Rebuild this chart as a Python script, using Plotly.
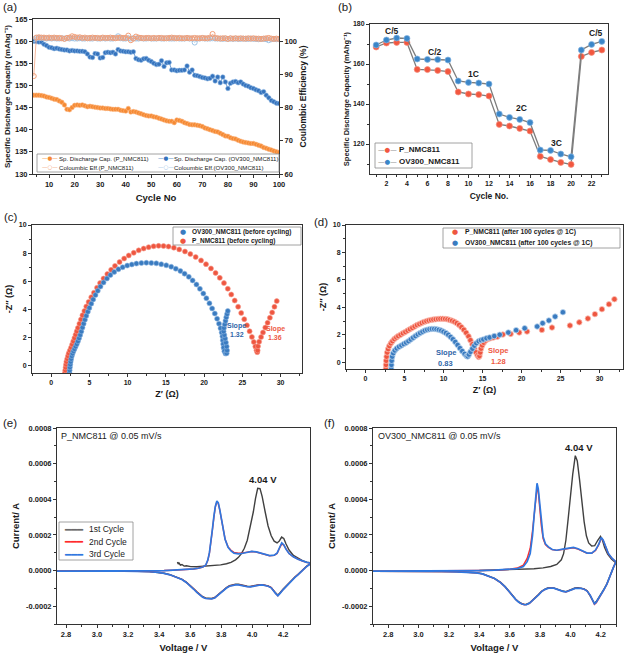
import plotly.graph_objects as go

W, H = 626, 658
FONT = "Liberation Sans"
GLYPH = "DejaVu Sans"
AX = "#333333"
TXT = "#1a1a1a"

# ---------------- (a) cycling stability ----------------
cycles_a = [4, 5, 6, 7, 8, 9, 10, 11, 12, 13, 14, 15, 16, 17, 18, 19, 20, 21, 22, 23,
            24, 25, 26, 27, 28, 29, 30, 31, 32, 33, 34, 35, 36, 37, 38, 39, 40, 41, 42, 43,
            44, 45, 46, 47, 48, 49, 50, 51, 52, 53, 54, 55, 56, 57, 58, 59, 60, 61, 62, 63,
            64, 65, 66, 67, 68, 69, 70, 71, 72, 73, 74, 75, 76, 77, 78, 79, 80, 81, 82, 83,
            84, 85, 86, 87, 88, 89, 90, 91, 92, 93, 94, 95, 96, 97, 98, 99, 100]
cap_p_a = [147.8, 147.8, 147.8, 147.7, 147.6, 147.4, 147.3, 147.1, 146.9, 146.8,
           146.5, 146.2, 145.6, 144.6, 144.5, 145.0, 145.5, 145.6, 145.5, 145.6,
           145.4, 145.2, 145.3, 145.2, 145.1, 145.0, 144.9, 144.9, 144.8, 144.8,
           144.7, 144.6, 144.6, 144.6, 144.4, 144.3, 144.2, 144.8, 144.0, 144.1,
           144.0, 143.8, 143.6, 143.4, 143.2, 143.1, 143.1, 142.9, 142.8, 142.6,
           142.4, 142.2, 142.0, 141.9, 141.9, 141.6, 142.2, 142.1, 141.9, 141.6,
           141.4, 141.2, 141.1, 141.1, 141.0, 140.9, 140.7, 140.4, 140.2, 140.0,
           139.8, 139.6, 139.5, 139.2, 138.9, 138.6, 138.5, 138.2, 138.0, 137.9,
           137.6, 137.4, 137.2, 137.1, 137.0, 136.9, 136.9, 136.7, 136.5, 136.3,
           136.0, 135.8, 135.6, 135.4, 135.2, 135.0, 134.9]
cap_ov_a = [160.0, 159.9, 159.8, 159.8, 159.3, 159.0, 158.6, 158.5, 158.3, 158.4,
            158.2, 158.1, 158.0, 158.0, 157.8, 157.9, 157.8, 157.8, 157.7, 157.7,
            157.6, 157.1, 156.4, 156.3, 157.2, 157.1, 156.2, 156.3, 157.4, 157.5,
            157.4, 157.5, 157.1, 158.1, 157.8, 157.7, 157.6, 157.6, 157.5, 157.6,
            156.1, 155.8, 155.7, 156.0, 156.1, 155.7, 155.4, 155.0, 154.7, 154.8,
            155.6, 154.3, 155.1, 155.2, 153.5, 153.5, 153.3, 153.4, 153.4, 153.5,
            154.4, 153.0, 153.5, 152.3, 152.2, 152.0, 151.8, 151.7, 151.5, 151.6,
            152.1, 151.0, 151.9, 150.6, 151.9, 150.8, 149.3, 150.5, 150.8, 150.9,
            150.6, 150.8, 150.3, 150.0, 149.8, 149.5, 149.3, 149.0, 148.8, 148.4,
            148.6, 147.8, 147.2, 146.6, 146.3, 146.0, 145.9]
ce_p_a = [89.5, 101.1, 101.2, 101.1, 101.1, 101.0, 101.1, 101.0, 101.1, 101.0,
          101.0, 100.9, 100.7, 101.0, 101.1, 101.5, 101.3, 101.1, 101.2, 101.0,
          101.1, 100.9, 101.0, 101.1, 101.0, 101.0, 100.9, 101.1, 101.0, 101.0,
          101.1, 101.0, 100.9, 101.0, 101.1, 101.0, 101.0, 101.7, 100.3, 100.8,
          101.4, 101.1, 101.0, 100.9, 101.0, 101.0, 100.9, 101.0, 100.9, 101.0,
          101.0, 100.9, 100.9, 101.0, 101.1, 101.0, 100.9, 101.0, 100.9, 100.9,
          101.0, 100.9, 100.9, 101.0, 100.9, 100.9, 101.0, 100.9, 100.9, 101.1,
          102.2, 101.0, 100.9, 100.8, 100.9, 100.9, 100.7, 100.9, 100.8, 100.9,
          100.8, 100.9, 100.8, 100.8, 100.9, 100.8, 100.9, 100.8, 100.8, 100.7,
          100.8, 100.9, 101.0, 100.8, 100.7, 100.8, 100.7]
ce_ov_a = [100.6, 100.9, 101.0, 100.9, 100.9, 100.8, 100.9, 100.8, 100.9, 100.8,
           100.8, 100.9, 100.8, 100.9, 100.8, 100.9, 100.8, 100.8, 100.9, 100.8,
           100.8, 100.9, 100.8, 100.8, 101.0, 100.8, 100.8, 100.9, 100.8, 100.9,
           100.8, 100.8, 101.0, 101.5, 100.9, 100.8, 100.8, 100.9, 100.8, 100.9,
           100.8, 100.8, 100.9, 100.8, 100.8, 100.9, 100.8, 100.8, 100.8, 100.9,
           100.8, 100.8, 100.9, 100.8, 100.8, 100.8, 100.9, 100.8, 100.8, 100.8,
           100.9, 100.8, 100.8, 99.6, 100.8, 100.8, 100.9, 100.8, 100.8, 100.8,
           100.9, 100.8, 100.8, 100.8, 100.7, 100.8, 100.7, 100.8, 100.7, 100.8,
           100.7, 100.7, 100.8, 100.7, 100.7, 100.8, 100.7, 100.7, 100.6, 100.7,
           100.7, 100.6, 100.3, 100.6, 100.7, 100.6, 100.6]

# ---------------- (b) rate capability ----------------
cycles_b = [1, 2, 3, 4, 5, 6, 7, 8, 9, 10, 11, 12, 13, 14, 15, 16, 17, 18, 19, 20, 21, 22, 23]
rate_p = [168.5, 170.5, 170.8, 170.8, 157.3, 157.2, 156.8, 156.2, 146.0, 145.0, 144.7, 144.0,
          129.8, 129.0, 127.8, 126.5, 113.8, 112.2, 110.8, 109.8, 163.8, 165.8, 167.0]
rate_ov = [169.5, 172.0, 173.0, 172.8, 162.5, 162.3, 162.2, 162.0, 151.5, 150.8, 150.5, 150.0,
           135.0, 133.3, 132.3, 130.7, 117.0, 116.8, 115.0, 113.6, 167.0, 169.8, 171.3]
rate_labels = ["C/5", "C/2", "1C", "2C", "3C", "C/5"]
rate_label_x = [2.5, 6.7, 10.5, 15.2, 18.6, 22.4]
rate_label_y = [176.5, 166.0, 155.0, 137.8, 120.3, 175.5]

# ---------------- (c) EIS before cycling ----------------
c_ov_x = [2.40, 2.42, 2.45, 2.50, 2.55, 2.62, 2.70, 2.80, 2.92, 3.05,
          3.20, 3.35, 3.50, 3.65, 3.80, 3.95, 4.10, 4.25, 4.42, 4.60,
          4.80, 5.00, 5.25, 5.50, 5.80, 6.10, 6.45, 6.85, 7.30, 7.75,
          8.25, 8.80, 9.35, 9.95, 10.55, 11.15, 11.80, 12.45, 13.10, 13.75,
          14.40, 15.05, 15.70, 16.30, 16.90, 17.45, 18.00, 18.50, 19.00, 19.45,
          19.90, 20.30, 20.70, 21.05, 21.40, 21.70, 21.95, 22.15, 22.30, 22.40,
          22.45, 22.50, 22.55, 22.65, 22.80, 22.95, 23.00, 22.95, 22.85, 22.75,
          22.65, 22.55, 22.60, 22.70, 22.80, 22.90, 23.00, 23.10]
c_ov_y = [-0.50, -0.30, -0.10, 0.10, 0.30, 0.50, 0.70, 0.88, 1.05, 1.20,
          1.38, 1.55, 1.75, 1.97, 2.20, 2.45, 2.72, 3.00, 3.28, 3.56,
          3.85, 4.12, 4.42, 4.72, 5.03, 5.33, 5.63, 5.92, 6.20, 6.45,
          6.67, 6.86, 7.00, 7.12, 7.20, 7.26, 7.30, 7.32, 7.31, 7.28,
          7.22, 7.14, 7.04, 6.90, 6.74, 6.55, 6.32, 6.07, 5.78, 5.47,
          5.14, 4.80, 4.44, 4.08, 3.72, 3.35, 3.00, 2.68, 2.38, 2.10,
          1.82, 1.55, 1.30, 1.05, 0.88, 0.90, 1.10, 1.38, 1.66, 1.94,
          2.20, 2.45, 2.70, 2.95, 3.20, 3.45, 3.68, 3.90]
c_p_x = [1.80, 1.85, 1.90, 1.95, 2.00, 2.10, 2.20, 2.30, 2.45, 2.60,
         2.75, 2.90, 3.05, 3.20, 3.35, 3.50, 3.70, 3.90, 4.10, 4.35,
         4.60, 4.90, 5.25, 5.60, 6.00, 6.40, 6.85, 7.35, 7.85, 8.35,
         8.95, 9.55, 10.15, 10.80, 11.45, 12.10, 12.75, 13.40, 14.05, 14.70,
         15.35, 16.05, 16.75, 17.50, 18.20, 18.90, 19.60, 20.25, 20.90, 21.50,
         22.05, 22.60, 23.10, 23.55, 24.00, 24.45, 24.85, 25.25, 25.60, 25.95,
         26.25, 26.50, 26.70, 26.85, 26.95, 27.00, 27.05, 27.20, 27.45, 27.70,
         28.00, 28.30, 28.60, 28.90, 29.20, 29.50]
c_p_y = [-0.50, -0.30, -0.10, 0.10, 0.30, 0.50, 0.70, 0.90, 1.10, 1.30,
         1.52, 1.75, 1.98, 2.22, 2.46, 2.70, 3.00, 3.30, 3.60, 3.90,
         4.22, 4.54, 4.88, 5.20, 5.55, 5.88, 6.20, 6.52, 6.82, 7.10,
         7.37, 7.62, 7.84, 8.03, 8.20, 8.33, 8.43, 8.49, 8.52, 8.51,
         8.47, 8.39, 8.27, 8.12, 7.94, 7.73, 7.49, 7.22, 6.92, 6.60,
         6.25, 5.88, 5.48, 5.07, 4.64, 4.20, 3.76, 3.32, 2.88, 2.46,
         2.06, 1.70, 1.38, 1.12, 0.98, 1.10, 1.40, 1.72, 2.05, 2.38,
         2.72, 3.06, 3.42, 3.80, 4.20, 4.60]

# ---------------- (d) EIS after 100 cycles ----------------
d_p_x = [2.60, 2.62, 2.65, 2.70, 2.78, 2.90, 3.05, 3.25, 3.45, 3.70,
         3.95, 4.20, 4.50, 4.80, 5.10, 5.40, 5.70, 6.00, 6.30, 6.60,
         6.90, 7.20, 7.50, 7.80, 8.10, 8.40, 8.70, 9.00, 9.30, 9.60,
         9.90, 10.20, 10.50, 10.80, 11.10, 11.40, 11.70, 12.00, 12.30, 12.60,
         12.90, 13.20, 13.45, 13.70, 13.95, 14.15, 14.35, 14.50, 14.60, 14.70,
         14.80, 14.95, 15.15, 15.40, 15.70, 16.00, 16.40, 16.90, 17.60, 18.60,
         19.70, 20.70, 22.60, 23.90, 26.20, 27.40, 28.50, 29.40, 30.30, 31.20, 31.90]
d_p_y = [-0.50, -0.20, 0.10, 0.40, 0.70, 0.95, 1.17, 1.37, 1.53, 1.68,
         1.80, 1.90, 2.00, 2.10, 2.20, 2.30, 2.40, 2.50, 2.60, 2.70,
         2.78, 2.86, 2.93, 2.99, 3.04, 3.08, 3.11, 3.13, 3.15, 3.16,
         3.16, 3.15, 3.12, 3.08, 3.02, 2.94, 2.84, 2.71, 2.55, 2.36,
         2.14, 1.88, 1.60, 1.30, 1.00, 0.72, 0.50, 0.38, 0.45, 0.70,
         0.98, 1.22, 1.42, 1.58, 1.68, 1.74, 1.80, 1.86, 2.01, 2.06,
         2.16, 2.23, 2.35, 2.52, 2.67, 2.90, 3.18, 3.50, 3.86, 4.22, 4.59]
d_ov_x = [3.30, 3.32, 3.35, 3.42, 3.55, 3.75, 4.00, 4.30, 4.60, 4.90,
          5.20, 5.50, 5.80, 6.10, 6.40, 6.70, 7.00, 7.30, 7.60, 7.90,
          8.20, 8.50, 8.80, 9.10, 9.40, 9.70, 10.00, 10.30, 10.60, 10.90,
          11.20, 11.50, 11.80, 12.10, 12.40, 12.70, 12.95, 13.10, 13.25, 13.45,
          13.70, 13.95, 14.20, 14.50, 14.80, 15.10, 15.50, 15.90, 16.50, 17.20,
          18.30, 19.30, 20.40, 22.00, 22.70, 23.50, 24.30, 25.30]
d_ov_y = [-0.50, -0.20, 0.10, 0.40, 0.65, 0.85, 1.00, 1.12, 1.22, 1.32,
          1.42, 1.53, 1.65, 1.78, 1.90, 2.02, 2.12, 2.22, 2.30, 2.36,
          2.40, 2.42, 2.42, 2.40, 2.36, 2.30, 2.22, 2.12, 1.99, 1.84,
          1.67, 1.47, 1.25, 1.02, 0.80, 0.60, 0.45, 0.42, 0.55, 0.75,
          0.98, 1.20, 1.38, 1.52, 1.60, 1.66, 1.74, 1.80, 1.90, 2.00,
          2.16, 2.33, 2.47, 2.60, 2.84, 3.04, 3.32, 3.64]

# ---------------- (e) CV of P_NMC811 (current in units of 1e-4 A) ----------------
e_v_an1 = [3.518, 3.523, 3.528, 3.537, 3.547, 3.561, 3.575, 3.604, 3.643, 3.681,
           3.719, 3.758, 3.796, 3.834, 3.863, 3.892, 3.911, 3.930, 3.949, 3.968,
           3.987, 4.007, 4.021, 4.035, 4.050, 4.064, 4.083, 4.102, 4.122, 4.141,
           4.160, 4.174, 4.189, 4.203, 4.217, 4.237, 4.265, 4.294, 4.323, 4.351, 4.380]
e_i1_an = [0.48, 0.36, 0.42, 0.30, 0.34, 0.25, 0.27, 0.22, 0.21, 0.23,
           0.25, 0.28, 0.32, 0.38, 0.46, 0.60, 0.74, 0.95, 1.25, 1.70,
           2.40, 3.30, 4.05, 4.62, 4.60, 4.15, 3.30, 2.50, 1.95, 1.65,
           1.55, 1.65, 1.88, 1.80, 1.50, 1.15, 0.85, 0.68, 0.56, 0.47, 0.42]
e_v_an = [2.700, 2.886, 3.029, 3.173, 3.269, 3.365, 3.432, 3.489, 3.547, 3.585,
          3.623, 3.652, 3.681, 3.700, 3.714, 3.724, 3.734, 3.743, 3.753, 3.762,
          3.772, 3.781, 3.791, 3.801, 3.810, 3.825, 3.844, 3.863, 3.882, 3.911,
          3.940, 3.968, 3.997, 4.026, 4.054, 4.083, 4.112, 4.141, 4.160, 4.174,
          4.190, 4.203, 4.217, 4.237, 4.265, 4.294, 4.323, 4.351, 4.380]
e_i2_an = [-0.03, -0.03, -0.03, -0.02, -0.02, -0.01, 0.00, 0.02, 0.04, 0.06,
           0.09, 0.13, 0.20, 0.30, 0.58, 0.98, 1.52, 2.26, 3.00, 3.56,
           3.86, 3.77, 3.38, 2.88, 2.34, 1.76, 1.33, 1.14, 1.02, 0.97,
           0.99, 1.04, 1.07, 1.04, 0.96, 0.87, 0.83, 0.85, 0.96, 1.22,
           1.50, 1.42, 1.19, 0.95, 0.76, 0.63, 0.53, 0.46, 0.41]
e_i3_an = [-0.03, -0.03, -0.03, -0.02, -0.02, -0.01, 0.00, 0.02, 0.04, 0.06,
           0.09, 0.13, 0.20, 0.30, 0.60, 1.00, 1.55, 2.30, 3.05, 3.60,
           3.90, 3.80, 3.40, 2.90, 2.35, 1.75, 1.30, 1.10, 0.98, 0.94,
           0.97, 1.03, 1.07, 1.05, 0.97, 0.88, 0.84, 0.86, 0.98, 1.25,
           1.55, 1.45, 1.20, 0.96, 0.77, 0.63, 0.53, 0.46, 0.41]
e_v_cat = [4.380, 4.351, 4.332, 4.313, 4.294, 4.275, 4.256, 4.237, 4.217, 4.198,
           4.179, 4.165, 4.150, 4.136, 4.122, 4.102, 4.083, 4.064, 4.045, 4.026,
           4.007, 3.987, 3.968, 3.949, 3.930, 3.911, 3.892, 3.872, 3.853, 3.834,
           3.815, 3.796, 3.777, 3.758, 3.738, 3.719, 3.700, 3.681, 3.662, 3.643,
           3.623, 3.604, 3.575, 3.547, 3.508, 3.470, 3.432, 3.393, 3.336, 3.269,
           3.173, 3.029, 2.886, 2.700]
e_i1_cat = [0.42, 0.25, 0.08, -0.08, -0.22, -0.36, -0.52, -0.70, -0.88, -1.05,
            -1.25, -1.39, -1.25, -1.08, -0.95, -0.86, -0.81, -0.79, -0.79, -0.83,
            -0.87, -0.89, -0.88, -0.84, -0.80, -0.77, -0.77, -0.79, -0.85, -0.95,
            -1.09, -1.26, -1.41, -1.51, -1.56, -1.57, -1.54, -1.47, -1.35, -1.19,
            -1.02, -0.86, -0.65, -0.49, -0.34, -0.23, -0.15, -0.10, -0.06, -0.04,
            -0.03, -0.02, -0.02, -0.02]
e_i2_cat = [0.41, 0.24, 0.07, -0.09, -0.23, -0.37, -0.53, -0.71, -0.89, -1.07,
            -1.27, -1.41, -1.27, -1.09, -0.96, -0.87, -0.82, -0.80, -0.81, -0.85,
            -0.89, -0.91, -0.90, -0.86, -0.82, -0.79, -0.79, -0.81, -0.87, -0.97,
            -1.11, -1.28, -1.43, -1.53, -1.58, -1.59, -1.56, -1.49, -1.37, -1.21,
            -1.04, -0.87, -0.66, -0.50, -0.35, -0.24, -0.16, -0.10, -0.06, -0.04,
            -0.03, -0.03, -0.03, -0.03]
e_i3_cat = [0.40, 0.23, 0.06, -0.10, -0.24, -0.38, -0.54, -0.72, -0.90, -1.08,
            -1.28, -1.42, -1.28, -1.10, -0.97, -0.88, -0.83, -0.81, -0.82, -0.86,
            -0.90, -0.92, -0.91, -0.87, -0.83, -0.80, -0.80, -0.82, -0.88, -0.98,
            -1.12, -1.29, -1.44, -1.54, -1.59, -1.60, -1.57, -1.50, -1.38, -1.22,
            -1.05, -0.88, -0.67, -0.50, -0.35, -0.24, -0.16, -0.10, -0.06, -0.04,
            -0.03, -0.03, -0.03, -0.03]

# ---------------- (f) CV of OV300_NMC811 (current in units of 1e-4 A) ----------------
f_v_an1 = [3.40, 3.50, 3.60, 3.69, 3.76, 3.82, 3.87, 3.91, 3.94, 3.955,
           3.97, 3.985, 4.00, 4.015, 4.032, 4.045, 4.06, 4.075, 4.09, 4.105,
           4.12, 4.14, 4.16, 4.18, 4.198, 4.21, 4.225, 4.245, 4.27, 4.30]
f_i1_an = [0.00, 0.02, 0.04, 0.06, 0.10, 0.15, 0.23, 0.34, 0.60, 0.95,
           1.70, 2.90, 4.20, 5.40, 6.45, 6.15, 5.10, 3.90, 2.75, 1.95,
           1.55, 1.38, 1.40, 1.70, 1.92, 1.72, 1.30, 0.92, 0.65, 0.42]
f_v_an = [2.70, 2.90, 3.10, 3.30, 3.40, 3.50, 3.60, 3.65, 3.69, 3.715,
          3.735, 3.75, 3.762, 3.772, 3.78, 3.788, 3.797, 3.808, 3.82, 3.835,
          3.855, 3.88, 3.91, 3.95, 3.99, 4.02, 4.05, 4.08, 4.11, 4.14,
          4.165, 4.185, 4.203, 4.215, 4.23, 4.25, 4.275, 4.30]
f_i2_an = [-0.03, -0.03, -0.02, -0.01, 0.00, 0.02, 0.07, 0.14, 0.30, 0.68,
           1.25, 2.20, 3.30, 4.25, 4.60, 4.45, 3.55, 2.55, 1.80, 1.45,
           1.30, 1.17, 1.13, 1.19, 1.26, 1.28, 1.20, 1.08, 0.97, 0.97,
           1.13, 1.42, 1.80, 1.70, 1.33, 0.94, 0.67, 0.48]
f_i3_an = [-0.03, -0.03, -0.02, -0.01, 0.00, 0.02, 0.06, 0.11, 0.22, 0.50,
           0.95, 1.95, 3.20, 4.45, 4.90, 4.60, 3.70, 2.70, 1.90, 1.50,
           1.33, 1.18, 1.14, 1.20, 1.27, 1.30, 1.22, 1.10, 0.98, 0.98,
           1.15, 1.45, 1.85, 1.72, 1.35, 0.95, 0.68, 0.49]
f_v_cat = [4.30, 4.285, 4.27, 4.255, 4.24, 4.22, 4.20, 4.185, 4.17, 4.158,
           4.145, 4.13, 4.11, 4.09, 4.07, 4.05, 4.03, 4.01, 3.99, 3.97,
           3.95, 3.93, 3.91, 3.89, 3.87, 3.85, 3.83, 3.81, 3.79, 3.77,
           3.75, 3.73, 3.71, 3.698, 3.68, 3.66, 3.64, 3.62, 3.60, 3.57,
           3.54, 3.50, 3.46, 3.42, 3.38, 3.32, 3.25, 3.15, 3.00, 2.85, 2.70]
f_i1_cat = [0.48, 0.21, -0.14, -0.46, -0.74, -1.05, -1.35, -1.57, -1.74, -1.84,
            -1.63, -1.37, -1.13, -1.03, -0.98, -0.96, -0.98, -1.05, -1.13, -1.18,
            -1.15, -1.08, -1.01, -0.97, -0.96, -0.98, -1.05, -1.16, -1.34, -1.50,
            -1.68, -1.82, -1.89, -1.90, -1.86, -1.76, -1.61, -1.43, -1.20, -0.90,
            -0.66, -0.44, -0.29, -0.18, -0.12, -0.08, -0.06, -0.05, -0.04, -0.04, -0.04]
f_i2_cat = [0.49, 0.22, -0.15, -0.48, -0.77, -1.09, -1.40, -1.63, -1.81, -1.90,
            -1.67, -1.39, -1.15, -1.05, -1.00, -0.98, -1.00, -1.07, -1.15, -1.20,
            -1.17, -1.10, -1.03, -0.99, -0.98, -1.00, -1.07, -1.18, -1.36, -1.52,
            -1.70, -1.84, -1.91, -1.92, -1.88, -1.78, -1.63, -1.45, -1.22, -0.92,
            -0.68, -0.45, -0.30, -0.19, -0.13, -0.09, -0.07, -0.05, -0.05, -0.04, -0.04]
f_i3_cat = [0.49, 0.22, -0.15, -0.48, -0.76, -1.08, -1.38, -1.60, -1.78, -1.87,
            -1.65, -1.38, -1.15, -1.05, -1.00, -0.98, -1.00, -1.07, -1.15, -1.20,
            -1.17, -1.10, -1.03, -0.99, -0.98, -1.00, -1.07, -1.18, -1.36, -1.52,
            -1.70, -1.84, -1.91, -1.92, -1.88, -1.78, -1.63, -1.45, -1.22, -0.92,
            -0.68, -0.45, -0.30, -0.19, -0.13, -0.09, -0.07, -0.05, -0.05, -0.04, -0.04]
cv_scale = 1e-4
cv_tickvals = [-0.0002, 0.0, 0.0002, 0.0004, 0.0006, 0.0008]
cv_ticktext = ["-0.0002", "0.0000", "0.0002", "0.0004", "0.0006", "0.0008"]

# ---------------- helpers ----------------
def dx(l, r):
    return [l / W, r / W]

def dy(t, b):
    return [1 - b / H, 1 - t / H]

def px(x):
    return x / W

def py(y):
    return 1 - y / H

def axis(domain, anchor, rng, dtick, tick0=0, minor=None, tickfs=7.5, title=None,
         titlefs=8.5, standoff=3, **kw):
    d = dict(domain=domain, anchor=anchor, range=rng, dtick=dtick, tick0=tick0,
             showline=True, linecolor=AX, linewidth=1, mirror=True,
             ticks="outside", ticklen=3, tickwidth=1, tickcolor=AX,
             showgrid=False, zeroline=False, automargin=False,
             tickfont=dict(family=FONT, size=tickfs, color=TXT, weight="bold"))
    if minor is not None:
        d["minor"] = dict(dtick=minor, tick0=tick0, ticks="outside", ticklen=2,
                          tickwidth=1, tickcolor=AX, showgrid=False)
    if title:
        d["title"] = dict(text=title, standoff=standoff,
                          font=dict(family=FONT, size=titlefs, color=TXT, weight="bold"))
    d.update(kw)
    return d

def scale(vals):
    return [v * cv_scale for v in vals]

fig = go.Figure()

# ---- (a) traces
fig.add_trace(go.Scatter(x=cycles_a, y=ce_ov_a, xaxis="x", yaxis="y7", mode="lines+markers",
                         name="Coloumbic Eff.(OV300_NMC811)", showlegend=False,
                         line=dict(color="#a9cbea", width=0.8),
                         marker=dict(symbol="circle-open", size=5, color="#9ec4e6",
                                     line=dict(width=1))))
fig.add_trace(go.Scatter(x=cycles_a, y=ce_p_a, xaxis="x", yaxis="y7", mode="lines+markers",
                         name="Coloumbic Eff.(P_NMC811)", showlegend=False,
                         line=dict(color="#f5a784", width=0.8),
                         marker=dict(symbol="circle-open", size=5, color="#f39f78",
                                     line=dict(width=1))))
fig.add_trace(go.Scatter(x=cycles_a, y=cap_p_a, xaxis="x", yaxis="y", mode="lines+markers",
                         name="Sp. Discharge Cap. (P_NMC811)", showlegend=False,
                         line=dict(color="#f7923f", width=0.8),
                         marker=dict(size=4.5, color="#f58a33",
                                     line=dict(color="#fbb27a", width=0.6))))
fig.add_trace(go.Scatter(x=cycles_a, y=cap_ov_a, xaxis="x", yaxis="y", mode="lines+markers",
                         name="Sp. Discharge Cap. (OV300_NMC811)", showlegend=False,
                         line=dict(color="#4a84c6", width=0.8),
                         marker=dict(size=4.5, color="#3573bd",
                                     line=dict(color="#86b2e0", width=0.6))))

# ---- (b) traces
fig.add_trace(go.Scatter(x=cycles_b, y=rate_p, xaxis="x2", yaxis="y2", mode="lines+markers",
                         name="P_NMC811", showlegend=False,
                         line=dict(color="#7d7d7d", width=1.3),
                         marker=dict(size=6, color="#f2573f", line=dict(color="#f58e7e", width=0.7))))
fig.add_trace(go.Scatter(x=cycles_b, y=rate_ov, xaxis="x2", yaxis="y2", mode="lines+markers",
                         name="OV300_NMC811", showlegend=False,
                         line=dict(color="#7d7d7d", width=1.3),
                         marker=dict(size=6, color="#3b86c8", line=dict(color="#86b6e2", width=0.7))))

# ---- (c) traces
fig.add_trace(go.Scatter(x=c_p_x, y=c_p_y, xaxis="x3", yaxis="y3", mode="markers",
                         name="P_NMC811 (before cycling)", showlegend=False,
                         marker=dict(size=5, color="#ee5640", line=dict(color="#f79a8c", width=0.6))))
fig.add_trace(go.Scatter(x=c_ov_x, y=c_ov_y, xaxis="x3", yaxis="y3", mode="markers",
                         name="OV300_NMC811 (before cycling)", showlegend=False,
                         marker=dict(size=5, color="#3a7bc0", line=dict(color="#8fb7e0", width=0.6))))

# ---- (d) traces
fig.add_trace(go.Scatter(x=d_p_x, y=d_p_y, xaxis="x4", yaxis="y4", mode="markers",
                         name="P_NMC811 (after 100 cycles @ 1C)", showlegend=False,
                         marker=dict(size=5.5, color="#ee5640", line=dict(color="#fbc2b8", width=0.8))))
fig.add_trace(go.Scatter(x=d_ov_x, y=d_ov_y, xaxis="x4", yaxis="y4", mode="markers",
                         name="OV300_NMC811 (after 100 cycles @ 1C)", showlegend=False,
                         marker=dict(size=5.5, color="#3a7bc0", line=dict(color="#bcd5ee", width=0.8))))

# ---- (e) traces
CV_COL = {"1": "#404040", "2": "#ff2a2a", "3": "#2f78e0"}
fig.add_trace(go.Scatter(x=e_v_an1 + e_v_cat, y=scale(e_i1_an + e_i1_cat), xaxis="x5", yaxis="y5",
                         mode="lines", name="1st Cycle", showlegend=False,
                         line=dict(color=CV_COL["1"], width=1.4)))
fig.add_trace(go.Scatter(x=e_v_an + e_v_cat, y=scale(e_i2_an + e_i2_cat), xaxis="x5", yaxis="y5",
                         mode="lines", name="2nd Cycle", showlegend=False,
                         line=dict(color=CV_COL["2"], width=1.4)))
fig.add_trace(go.Scatter(x=e_v_an + e_v_cat, y=scale(e_i3_an + e_i3_cat), xaxis="x5", yaxis="y5",
                         mode="lines", name="3rd Cycle", showlegend=False,
                         line=dict(color=CV_COL["3"], width=1.7)))

# ---- (f) traces
fig.add_trace(go.Scatter(x=f_v_an1 + f_v_cat, y=scale(f_i1_an + f_i1_cat), xaxis="x6", yaxis="y6",
                         mode="lines", name="1st Cycle", showlegend=False,
                         line=dict(color=CV_COL["1"], width=1.4)))
fig.add_trace(go.Scatter(x=f_v_an + f_v_cat, y=scale(f_i2_an + f_i2_cat), xaxis="x6", yaxis="y6",
                         mode="lines", name="2nd Cycle", showlegend=False,
                         line=dict(color=CV_COL["2"], width=1.4)))
fig.add_trace(go.Scatter(x=f_v_an + f_v_cat, y=scale(f_i3_an + f_i3_cat), xaxis="x6", yaxis="y6",
                         mode="lines", name="3rd Cycle", showlegend=False,
                         line=dict(color=CV_COL["3"], width=1.7)))

# ---------------- layout ----------------
CAP_TITLE = "Specific Discharge Capacity (mAhg⁻¹)"
ZRE_TITLE = "Z′ (Ω)"
ZIM_TITLE = "-Z″ (Ω)"
layout = dict(
    width=W, height=H, margin=dict(l=0, r=0, t=0, b=0),
    paper_bgcolor="white", plot_bgcolor="white", showlegend=False,
    font=dict(family=FONT, color=TXT),
    # (a)
    xaxis=axis(dx(33, 279), "y", [3.7, 100], 10, minor=5, tickfs=7.5,
               title="Cycle No", titlefs=9.5, standoff=6),
    yaxis=axis(dy(19, 174), "x", [130, 165], 5, tickfs=7.5,
               title=CAP_TITLE, titlefs=8, standoff=3),
    yaxis7=axis(dy(19, 174), "x", [60, 106.7], 10, tickfs=7.5, overlaying="y", side="right",
                mirror=False, title="Coulombic Efficiency (%)", titlefs=8.5, standoff=4),
    # (b)
    xaxis2=axis(dx(370, 608), "y2", [0.4, 23.6], 2, minor=1, tickfs=7,
                title="Cycle No.", titlefs=8.5, standoff=6),
    yaxis2=axis(dy(24, 174), "x2", [105, 180], 20, minor=10, tickfs=7,
                title=CAP_TITLE, titlefs=7.5, standoff=2),
    # (c)
    xaxis3=axis(dx(32, 302), "y3", [-2.5, 32.8], 5, minor=2.5, tickfs=7,
                title=ZRE_TITLE, titlefs=9, standoff=5),
    yaxis3=axis(dy(225, 373), "x3", [-0.5, 10], 2, minor=1, tickfs=7,
                title=ZIM_TITLE, titlefs=9, standoff=4),
    # (d)
    xaxis4=axis(dx(346, 623), "y4", [-2.5, 33], 5, minor=2.5, tickfs=7,
                title=ZRE_TITLE, titlefs=9, standoff=5),
    yaxis4=axis(dy(225, 369), "x4", [-0.5, 10], 2, minor=1, tickfs=7,
                title=ZIM_TITLE, titlefs=9, standoff=4),
    # (e)
    xaxis5=axis(dx(57, 310), "y5", [2.742, 4.372], 0.2, tick0=2.8, minor=0.1, tickfs=7.5,
                tickformat=".1f", title="Voltage / V", titlefs=9.5, standoff=6),
    yaxis5=axis(dy(428, 624), "x5", [-0.0003, 0.0008], None, tickfs=7.5,
                tickmode="array", tickvals=cv_tickvals, ticktext=cv_ticktext,
                title="Current/ A", titlefs=9.5, standoff=4),
    # (f)
    xaxis6=axis(dx(373, 616), "y6", [2.7, 4.3], 0.2, tick0=2.8, minor=0.1, tickfs=7.5,
                tickformat=".1f", title="Voltage / V", titlefs=9.5, standoff=6),
    yaxis6=axis(dy(428, 624), "x6", [-0.0003, 0.0008], None, tickfs=7.5,
                tickmode="array", tickvals=cv_tickvals, ticktext=cv_ticktext,
                title="Current/ A", titlefs=9.5, standoff=4),
)
for k in ("yaxis5", "yaxis6"):
    layout[k].pop("dtick")
    layout[k].pop("tick0")
    layout[k]["minor"] = dict(tickvals=[-0.0003, -0.0001, 0.0001, 0.0003, 0.0005, 0.0007],
                              ticks="outside", ticklen=2, tickcolor=AX)
fig.update_layout(**layout)

ann = []
shapes = []

def note(x, y, text, size, color=TXT, bold=False, xanchor="center", yanchor="middle",
         xref="paper", yref="paper", family=FONT):
    ann.append(dict(x=x, y=y, xref=xref, yref=yref, text=text, showarrow=False,
                    xanchor=xanchor, yanchor=yanchor,
                    font=dict(family=family, size=size, color=color,
                              weight="bold" if bold else "normal")))

def box(l, t, r, b, color="#8a8a8a"):
    shapes.append(dict(type="rect", xref="paper", yref="paper", x0=px(l), x1=px(r),
                       y0=py(b), y1=py(t), line=dict(color=color, width=0.8),
                       fillcolor="white", layer="above"))

# panel letters
for lab, x, y in [("(a)", 1, 7), ("(b)", 336, 7), ("(c)", 2, 217), ("(d)", 312, 222),
                  ("(e)", 1, 423), ("(f)", 322, 423)]:
    note(px(x), py(y), lab, 11.5, xanchor="left")

# (a) legend
box(37, 154, 279, 172)
a_leg = [(40, 158.3, "—●—", "#f58a33", "Sp. Discharge Cap. (P_NMC811)", 57),
         (156, 158.3, "—●—", "#3573bd", "Sp. Discharge Cap. (OV300_NMC811)", 172),
         (40, 167.0, "—○—", "#f39f78", "Coloumbic Eff.(P_NMC811)", 57),
         (156, 167.0, "—○—", "#9ec4e6", "Coloumbic Eff.(OV300_NMC811)", 172)]
for kx, ky, key, col, txt, tx in a_leg:
    note(px(kx), py(ky), key, 5.5, color=col, xanchor="left", family=GLYPH)
    note(px(tx), py(ky), txt, 6.1, xanchor="left")

# (b) legend and rate labels
box(375, 143, 472, 168)
b_key = '<span style="color:#7d7d7d">—</span>●<span style="color:#7d7d7d">—</span>'
for yy, col, txt in [(149.5, "#f2573f", "P_NMC811"), (161.5, "#3b86c8", "OV300_NMC811")]:
    note(px(376), py(yy), b_key, 6.5, color=col, xanchor="left", family=GLYPH)
    note(px(397), py(yy), txt, 8, bold=True, xanchor="left")
for t, x, y in zip(rate_labels, rate_label_x, rate_label_y):
    note(x, y, t, 8.5, bold=True, xref="x2", yref="y2")

# (c) legend and slope labels
box(173, 227, 301, 245)
note(px(178), py(231.7), "●", 7, color="#3a7bc0", xanchor="left", family=GLYPH)
note(px(190), py(231.7), "OV300_NMC811 (before cycling)", 6.5, bold=True, xanchor="left")
note(px(178), py(240.7), "●", 7, color="#ee5640", xanchor="left", family=GLYPH)
note(px(190), py(240.7), "P_NMC811 (before cycling)", 6.5, bold=True, xanchor="left")
note(24.3, 2.87, "Slope", 7, color="#2f66a8", bold=True, xref="x3", yref="y3")
note(24.3, 2.25, "1.32", 7, color="#2f66a8", bold=True, xref="x3", yref="y3")
note(29.3, 2.63, "Slope", 7, color="#ee5a44", bold=True, xref="x3", yref="y3")
note(29.3, 2.05, "1.36", 7, color="#ee5a44", bold=True, xref="x3", yref="y3")

# (d) legend and slope labels
box(443, 228, 620, 248)
note(px(450), py(232.5), "●", 7, color="#ee5640", xanchor="left", family=GLYPH)
note(px(463), py(232.5), "P_NMC811 (after 100 cycles @ 1C)", 6.8, bold=True, xanchor="left")
note(px(450), py(243.3), "●", 7, color="#3a7bc0", xanchor="left", family=GLYPH)
note(px(463), py(243.3), "OV300_NMC811 (after 100 cycles @ 1C)", 6.8, bold=True, xanchor="left")
note(10.3, 0.73, "Slope", 7.5, color="#2f66a8", bold=True, xref="x4", yref="y4")
note(10.3, -0.07, "0.83", 7.5, color="#2f66a8", bold=True, xref="x4", yref="y4")
note(17.0, 0.85, "Slope", 7.5, color="#ee5a44", bold=True, xref="x4", yref="y4")
note(17.0, 0.05, "1.28", 7.5, color="#ee5a44", bold=True, xref="x4", yref="y4")

# (e) legend, labels
box(59, 522, 133, 560)
for yy, col, txt in [(529, "#6a6a6a", "1st Cycle"), (541.7, CV_COL["2"], "2nd Cycle"),
                     (554, CV_COL["3"], "3rd Cycle")]:
    note(px(62), py(yy), "━━━", 10, color=col, xanchor="left", family=GLYPH)
    note(px(87), py(yy), txt, 8.5, xanchor="left")
note(px(59), py(435.5), "P_NMC811 @ 0.05 mV/s", 9, xanchor="left")
note(4.068, 0.000512, "4.04 V", 9.5, bold=True, xref="x5", yref="y5")

# (f) labels
note(px(376), py(435.5), "OV300_NMC811 @ 0.05 mV/s", 9, xanchor="left")
note(4.056, 0.00069, "4.04 V", 9.5, bold=True, xref="x6", yref="y6")

fig.update_layout(annotations=ann, shapes=shapes)
fig.write_html("out.html")
